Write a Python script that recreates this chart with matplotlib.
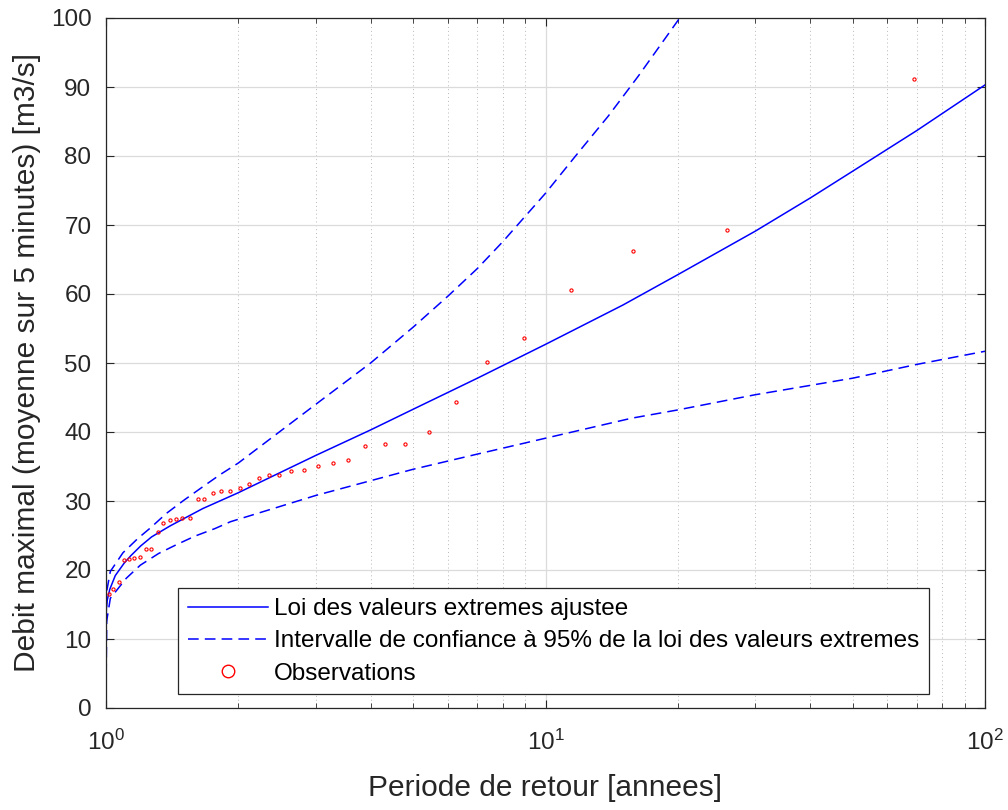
import matplotlib
matplotlib.use('Agg')
import matplotlib.pyplot as plt
from matplotlib.ticker import LogLocator, MultipleLocator, NullFormatter

plt.rcParams['font.family'] = ['Liberation Sans', 'DejaVu Sans']
plt.rcParams['mathtext.fontset'] = 'custom'
plt.rcParams['mathtext.rm'] = 'Liberation Sans'
plt.rcParams['mathtext.it'] = 'Liberation Sans:italic'

# Observations: return period [years] and max discharge [m3/s]
obs_T = [1.015, 1.040, 1.068, 1.098, 1.129, 1.161, 1.192, 1.232, 1.267, 1.310,
         1.347, 1.395, 1.442, 1.493, 1.553, 1.617, 1.673, 1.754, 1.829, 1.915,
         2.013, 2.110, 2.224, 2.350, 2.481, 2.638, 2.823, 3.040, 3.281, 3.557,
         3.885, 4.303, 4.796, 5.419, 6.252, 7.347, 8.950, 11.43, 15.82, 25.86, 68.77]
obs_Q = [16.5, 17.3, 18.2, 21.4, 21.6, 21.7, 21.9, 23.1, 23.0, 25.5,
         26.8, 27.2, 27.4, 27.6, 27.6, 30.3, 30.3, 31.2, 31.5, 31.5,
         31.9, 32.4, 33.4, 33.8, 33.8, 34.3, 34.5, 35.1, 35.5, 35.9,
         37.9, 38.3, 38.3, 40.0, 44.3, 50.2, 53.6, 60.6, 66.2, 69.3, 91.2]

# Fitted extreme value law
fit_T = [1.0, 1.0005, 1.002, 1.007, 1.02, 1.05, 1.1, 1.14, 1.2, 1.27, 1.4, 1.66,
         2.0, 3.0, 4.0, 5.0, 7.0, 10.0, 15.0, 20.0, 30.0, 40.0, 50.0, 70.0, 100.0]
fit_Q = [0.0, 13.0, 14.5, 15.7, 17.2, 19.2, 21.0, 22.1, 23.5, 24.8, 26.4, 28.9,
         31.2, 36.6, 40.3, 43.3, 47.8, 52.7, 58.4, 62.8, 69.1, 73.9, 77.8, 83.7, 90.3]

# 95% confidence interval
upper_T = [1.0, 1.003, 1.023, 1.093, 1.183, 1.262, 1.372, 1.503, 1.655, 1.816,
           2.0, 3.0, 4.0, 5.0, 6.0, 7.0, 8.0, 10.0, 11.67, 13.9, 16.27, 20.2]
upper_Q = [0.0, 16.8, 19.8, 22.5, 24.6, 26.1, 28.2, 30.1, 32.0, 33.8,
           35.5, 44.0, 50.0, 55.2, 59.7, 63.7, 67.6, 74.6, 79.9, 85.8, 91.6, 100.0]
lower_T = [1.0, 1.003, 1.023, 1.112, 1.197, 1.318, 1.439, 1.592, 1.769, 1.92,
           3.0, 5.0, 7.0, 10.0, 15.7, 20.0, 30.0, 50.0, 70.0, 100.0]
lower_Q = [0.0, 12.5, 15.9, 18.8, 20.7, 22.4, 23.6, 24.9, 26.0, 27.0,
           30.8, 34.6, 36.8, 39.1, 42.0, 43.2, 45.4, 47.8, 49.8, 51.7]

fig = plt.figure(figsize=(10.08, 8.10), dpi=100)
ax = fig.add_axes([106 / 1008, 102 / 810, 879 / 1008, 690 / 810])

ax.plot(fit_T, fit_Q, color='blue', lw=1.1, label='Loi des valeurs extremes ajustee')
ax.plot(upper_T, upper_Q, color='blue', lw=1.1, ls='--', dashes=(7, 4),
        label='Intervalle de confiance à 95% de la loi des valeurs extremes')
ax.plot(lower_T, lower_Q, color='blue', lw=1.1, ls='--', dashes=(7, 4))
ax.plot(obs_T, obs_Q, ls='none', marker='o', ms=2.3, mfc='none', mec='red',
        mew=0.8, label='Observations')

ax.set_xscale('log')
ax.set_xlim(1, 100)
ax.set_ylim(0, 100)
ax.yaxis.set_major_locator(MultipleLocator(10))
ax.xaxis.set_major_locator(LogLocator(base=10))
ax.xaxis.set_minor_locator(LogLocator(base=10, subs=range(2, 10)))
ax.xaxis.set_minor_formatter(NullFormatter())

ax.set_axisbelow(True)
ax.grid(which='major', color='0.86', ls='-', lw=0.9)
ax.xaxis.grid(which='minor', color='0.72', ls=(0, (1, 3)), lw=0.7)

ax.tick_params(which='both', direction='in', top=True, right=True,
               colors='0.15', labelsize=17.5)
ax.tick_params(which='major', length=6, width=0.8)
ax.tick_params(which='minor', length=3.5, width=0.6)
ax.tick_params(axis='x', which='major', pad=15.5)
ax.tick_params(axis='y', which='major', pad=10.5)
for sp in ax.spines.values():
    sp.set_color('0.15')
    sp.set_linewidth(0.9)

ax.set_xlabel('Periode de retour [annees]', fontsize=21.5, color='0.15', labelpad=14)
ax.set_ylabel('Debit maximal (moyenne sur 5 minutes) [m3/s]', fontsize=21.5,
              color='0.15', labelpad=7)

leg = ax.legend(loc='lower left', bbox_to_anchor=(0.0823, 0.0199), borderaxespad=0,
                fontsize=17.5, fancybox=False, framealpha=1, edgecolor='0.15',
                handlelength=3.3, handletextpad=0.25, labelspacing=0.42, borderpad=0.4)
leg.get_frame().set_linewidth(0.9)
leg.legend_handles[2].set_markersize(9)
leg.legend_handles[2].set_markeredgewidth(1.0)

fig.savefig('out.png', dpi=100)
